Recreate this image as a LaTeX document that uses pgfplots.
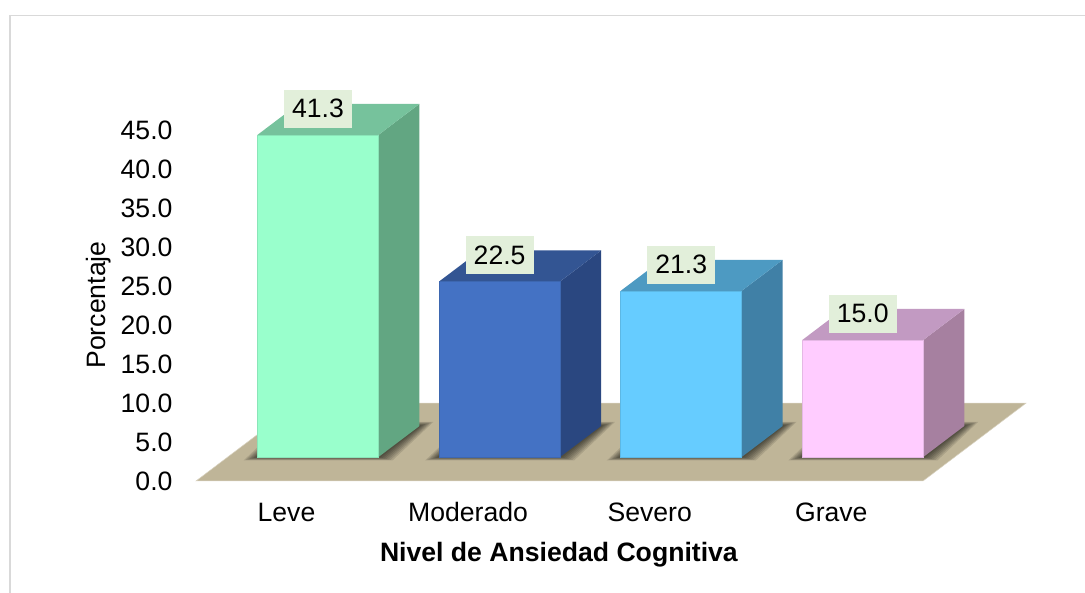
\documentclass[border=0pt]{standalone}
\usepackage{fontspec}
\setmainfont{Liberation Sans}
\usepackage{pgfplots}
\pgfplotsset{compat=1.18}
\definecolor{floorc}{HTML}{BFB598}
\definecolor{boxc}{HTML}{E2EFDA}
\definecolor{frontA}{HTML}{99FFCC}\definecolor{sideA}{HTML}{62A682}\definecolor{topA}{HTML}{76C29C}
\definecolor{frontB}{HTML}{4472C4}\definecolor{sideB}{HTML}{2A4780}\definecolor{topB}{HTML}{335593}
\definecolor{frontC}{HTML}{66CCFF}\definecolor{sideC}{HTML}{4080A6}\definecolor{topC}{HTML}{4D9AC2}
\definecolor{frontD}{HTML}{FFCCFF}\definecolor{sideD}{HTML}{A680A0}\definecolor{topD}{HTML}{C29AC2}
\newcommand{\shadowlayer}[2]{%
  \fill[black,opacity=0.11]
    (axis cs:{#1-0.3331-#2/181.6},{-0.25*#2/7.8}) --
    (axis cs:{#1+0.3331+#2/181.6},{-0.25*#2/7.8}) --
    (axis cs:{#1+0.5589+#2/181.6},{3.974+0.3*#2/7.8}) --
    (axis cs:{#1-0.1073-#2/181.6},{3.974+0.3*#2/7.8}) -- cycle;}
\newcommand{\barshadow}[1]{%
  \shadowlayer{#1}{14}\shadowlayer{#1}{12}\shadowlayer{#1}{10}\shadowlayer{#1}{8}%
  \shadowlayer{#1}{6}\shadowlayer{#1}{4}\shadowlayer{#1}{2}}
\pgfplotsset{
  myunits/.style={x=181.6pt,y=7.8pt,xmin=-0.7709,xmax=4.2236,enlargelimits=false,clip=false},
  front/.style={ybar,bar shift=0pt,bar width=121pt,fill=#1,draw=#1!90!black,line width=0.6pt,
    nodes near coords,
    /pgf/number format/fixed,/pgf/number format/fixed zerofill,/pgf/number format/precision=1,
    /pgf/number format/assume math mode=true,
    nodes near coords style={fill=boxc,text=black,anchor=south,yshift=7pt,inner sep=0pt,
      minimum width=68pt,minimum height=38pt,font=\fontsize{26.6}{30}\selectfont}},
  face/.style={fill=#1,draw=none,forget plot}
}
\begin{document}
\begin{tikzpicture}
\useasboundingbox (-178pt,-113pt) rectangle (907pt,480pt);
\draw[color=black!15,line width=1.5pt] (-168pt,-113pt) -- (-168pt,464.5pt) -- (907pt,464.5pt);
% floor, scale and labels
\begin{axis}[myunits,
  ymin=0,ymax=59.6,
  axis line style={draw=none},
  tick style={draw=none},
  font=\fontsize{26.6}{30}\selectfont,
  ytick={0,5,10,15,20,25,30,35,40,45},
  yticklabel style={/pgf/number format/fixed,/pgf/number format/fixed zerofill,/pgf/number format/precision=1,/pgf/number format/assume math mode=true,anchor=east,xshift=-2pt,yshift=-1.5pt},
  xtick={0,1,2,3},
  xticklabels={Leve,Moderado,Severo,Grave},
  xticklabel style={anchor=base,xshift=-31.5pt,yshift=-42pt},
  xlabel={\textbf{Nivel de Ansiedad Cognitiva}},
  xlabel style={at={(axis cs:1.327,-9.6)},anchor=center},
  ylabel={Porcentaje},
  ylabel style={at={(axis cs:-1.207,22.44)},anchor=center},
]
\addplot[fill=floorc,draw=floorc!60!white,line width=0.5pt] coordinates
  {(-0.6718,-0.128) (3.3315,-0.128) (3.8987,9.85) (-0.1046,9.85)} -- cycle;
\end{axis}
% bars; their base lies 23 px above the zero of the scale, in the front plane
\begin{axis}[myunits,at={(0pt,23pt)},ymin=0,ymax=56.8,hide axis]
\barshadow{0}
\addplot[face=sideA] coordinates {(0.3331,0) (0.5589,3.974) (0.5589,45.274) (0.3331,41.3)} -- cycle;
\addplot[face=topA] coordinates {(-0.3331,41.3) (0.3331,41.3) (0.5589,45.274) (-0.1073,45.274)} -- cycle;
\addplot[front=frontA] coordinates {(0,41.3)};
\barshadow{1}
\addplot[face=sideB] coordinates {(1.3331,0) (1.5589,3.974) (1.5589,26.474) (1.3331,22.5)} -- cycle;
\addplot[face=topB] coordinates {(0.6669,22.5) (1.3331,22.5) (1.5589,26.474) (0.8927,26.474)} -- cycle;
\addplot[front=frontB] coordinates {(1,22.5)};
\barshadow{2}
\addplot[face=sideC] coordinates {(2.3331,0) (2.5589,3.974) (2.5589,25.274) (2.3331,21.3)} -- cycle;
\addplot[face=topC] coordinates {(1.6669,21.3) (2.3331,21.3) (2.5589,25.274) (1.8927,25.274)} -- cycle;
\addplot[front=frontC] coordinates {(2,21.3)};
\barshadow{3}
\addplot[face=sideD] coordinates {(3.3331,0) (3.5589,3.974) (3.5589,18.974) (3.3331,15)} -- cycle;
\addplot[face=topD] coordinates {(2.6669,15) (3.3331,15) (3.5589,18.974) (2.8927,18.974)} -- cycle;
\addplot[front=frontD] coordinates {(3,15)};
\end{axis}
\end{tikzpicture}
\end{document}
